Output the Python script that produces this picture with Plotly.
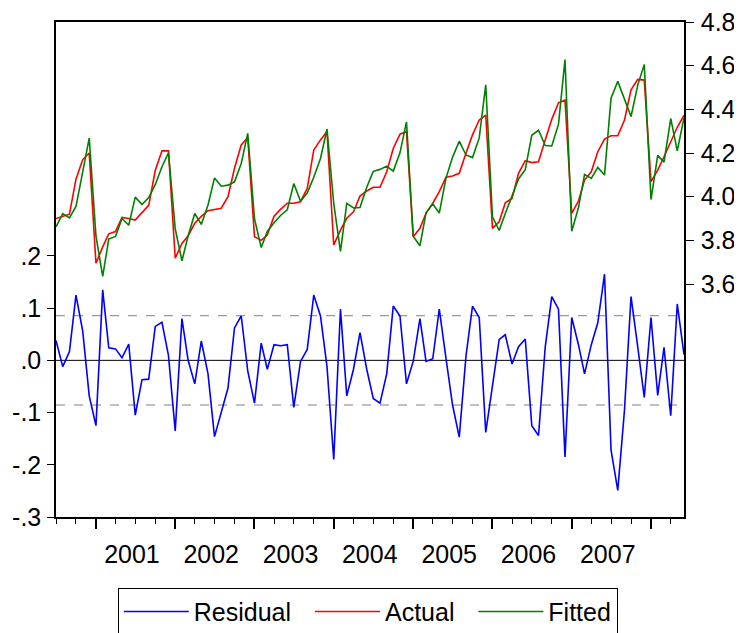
import pandas as pd
import plotly.graph_objects as go

# ---------------- data (monthly, 2000M07 - 2008M06) ----------------
start_month = "2000-07-01"
n_obs = 96

actual = [
    3.900, 3.910, 3.920, 4.080, 4.170, 4.200,
    3.695, 3.770, 3.830, 3.840, 3.905, 3.900, 3.893, 3.927, 3.960, 4.120, 4.210, 4.210,
    3.718, 3.786, 3.820, 3.878, 3.910, 3.936, 3.940, 3.947, 4.000, 4.130, 4.237, 4.270,
    3.817, 3.800, 3.824, 3.911, 3.942, 3.970, 3.970, 3.977, 4.038, 4.214, 4.260, 4.298,
    3.779, 3.847, 3.901, 3.931, 4.003, 4.026, 4.043, 4.043, 4.114, 4.221, 4.286, 4.298,
    3.817, 3.855, 3.924, 3.970, 4.023, 4.089, 4.095, 4.107, 4.199, 4.283, 4.351, 4.374,
    3.855, 3.885, 3.972, 3.992, 4.107, 4.165, 4.156, 4.160, 4.260, 4.354, 4.430, 4.443,
    3.924, 3.980, 4.076, 4.114, 4.206, 4.264, 4.279, 4.279, 4.351, 4.489, 4.537, 4.534,
    4.069, 4.122, 4.183, 4.252, 4.318, 4.373,
]

fitted = [
    3.862, 3.922, 3.903, 3.955, 4.114, 4.268,
    3.820, 3.635, 3.806, 3.818, 3.900, 3.869, 3.998, 3.964, 3.996, 4.055, 4.137, 4.201,
    3.853, 3.706, 3.819, 3.923, 3.873, 3.962, 4.086, 4.048, 4.053, 4.068, 4.152, 4.290,
    3.899, 3.767, 3.841, 3.881, 3.914, 3.940, 4.060, 3.979, 4.017, 4.089, 4.175, 4.310,
    3.969, 3.749, 3.969, 3.948, 3.950, 4.043, 4.116, 4.125, 4.140, 4.117, 4.201, 4.343,
    3.819, 3.775, 3.926, 3.967, 3.925, 4.085, 4.180, 4.254, 4.191, 4.179, 4.269, 4.512,
    3.908, 3.845, 3.923, 3.999, 4.081, 4.124, 4.281, 4.304, 4.234, 4.232, 4.332, 4.628,
    3.842, 3.950, 4.102, 4.084, 4.134, 4.099, 4.451, 4.528, 4.446, 4.367, 4.511, 4.605,
    3.987, 4.189, 4.158, 4.358, 4.210, 4.362,
]

residual = [
    0.038, -0.012, 0.017, 0.125, 0.056, -0.068,
    -0.125, 0.135, 0.024, 0.022, 0.005, 0.031, -0.105, -0.037, -0.036, 0.065, 0.073, 0.009,
    -0.135, 0.080, 0.001, -0.045, 0.037, -0.026, -0.146, -0.101, -0.053, 0.062, 0.085, -0.020,
    -0.082, 0.033, -0.017, 0.030, 0.028, 0.030, -0.090, -0.002, 0.021, 0.125, 0.085, -0.012,
    -0.190, 0.098, -0.068, -0.017, 0.053, -0.017, -0.073, -0.082, -0.026, 0.104, 0.085, -0.045,
    -0.002, 0.080, -0.002, 0.003, 0.098, 0.004, -0.085, -0.147, 0.008, 0.104, 0.082, -0.138,
    -0.053, 0.040, 0.049, -0.007, 0.026, 0.041, -0.125, -0.144, 0.026, 0.122, 0.098, -0.185,
    0.082, 0.030, -0.026, 0.030, 0.072, 0.165, -0.172, -0.249, -0.095, 0.122, 0.026, -0.071,
    0.082, -0.067, 0.025, -0.106, 0.108, 0.011,
]

residual_se = 0.0855  # +/- 1 S.E. band

series_names = ["Residual", "Actual", "Fitted"]

year_ticks = ["2001-01-01", "2002-01-01", "2003-01-01", "2004-01-01",
              "2005-01-01", "2006-01-01", "2007-01-01", "2008-01-01"]
year_labels = ["2001", "2002", "2003", "2004", "2005", "2006", "2007", ""]

left_tickvals = [-0.3, -0.2, -0.1, 0.0, 0.1, 0.2]
left_ticktext = ["-.3", "-.2", "-.1", ".0", ".1", ".2"]
right_tickvals = [3.6, 3.8, 4.0, 4.2, 4.4, 4.6, 4.8]
right_ticktext = ["3.6", "3.8", "4.0", "4.2", "4.4", "4.6", "4.8"]

# ---------------- figure ----------------
dates = pd.date_range(start_month, periods=n_obs, freq="MS")
FONT = "Liberation Sans, Arial, sans-serif"
FS = 25
PAD = "\u00a0\u00a0"  # spacing after legend labels

fig = go.Figure()
fig.add_trace(go.Scatter(x=dates, y=residual, name=series_names[0] + PAD, mode="lines",
                         line=dict(color="#0000ff", width=1.6), yaxis="y"))
fig.add_trace(go.Scatter(x=dates, y=actual, name=series_names[1] + PAD, mode="lines",
                         line=dict(color="#ff0000", width=1.6), yaxis="y2"))
fig.add_trace(go.Scatter(x=dates, y=fitted, name=series_names[2], mode="lines",
                         line=dict(color="#008000", width=1.6), yaxis="y2"))

# zero line and +/- S.E. band
fig.add_hline(y=0, line=dict(color="black", width=1), layer="below")
for s in (residual_se, -residual_se):
    fig.add_hline(y=s, line=dict(color="#808080", width=1, dash="dash"), layer="below")

fig.update_layout(
    width=734, height=625,
    margin=dict(l=48, r=58, t=14, b=116, pad=0, autoexpand=False),
    paper_bgcolor="white", plot_bgcolor="white",
    font=dict(family=FONT, size=FS, color="black"),
    showlegend=True,
    legend=dict(orientation="h", x=0.4965, xanchor="center", y=-0.143, yanchor="top",
                bordercolor="black", borderwidth=1, bgcolor="white",
                font=dict(family=FONT, size=FS, color="black"),
                itemwidth=65, tracegroupgap=0),
    xaxis=dict(
        type="date", range=[dates[0], dates[-1]],
        showline=True, mirror=True, linecolor="black", linewidth=1.5,
        showgrid=False, zeroline=False,
        tickmode="array", tickvals=year_ticks, ticktext=year_labels,
        ticks="outside", ticklen=10, tickwidth=1.5, tickcolor="black",
        ticklabelshift=36, ticklabelstandoff=4, ticklabeloverflow="allow",
        minor=dict(ticks="outside", ticklen=5, tickwidth=1, tickcolor="black",
                   dtick="M3", tick0="2000-01-01", showgrid=False),
    ),
    yaxis=dict(
        range=[-0.3, 0.648], tickmode="array", tickvals=left_tickvals, ticktext=left_ticktext,
        ticks="outside", ticklen=7, tickwidth=1, tickcolor="black",
        showline=True, linecolor="black", linewidth=1.5,
        showgrid=False, zeroline=False, ticklabelstandoff=1, ticklabeloverflow="allow",
    ),
    yaxis2=dict(
        overlaying="y", side="right",
        range=[2.533, 4.8], tickmode="array", tickvals=right_tickvals, ticktext=right_ticktext,
        ticks="outside", ticklen=8, tickwidth=1, tickcolor="black",
        showline=True, linecolor="black", linewidth=1.5,
        showgrid=False, zeroline=False, ticklabelstandoff=2, ticklabeloverflow="allow",
    ),
)

fig.write_html("out.html")
